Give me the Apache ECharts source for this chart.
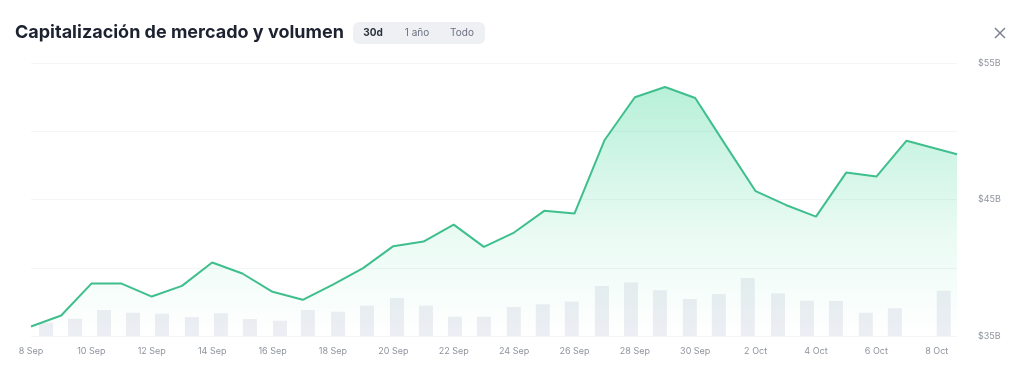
<!DOCTYPE html>
<html>
<head>
<meta charset="utf-8">
<script src="https://cdn.jsdelivr.net/npm/echarts@6/dist/echarts.min.js"></script>
<style>
html,body{margin:0;padding:0;background:#fff;}
#chart{width:1024px;height:379px;}
</style>
</head>
<body>
<div id="chart"></div>
<script>
// Days since 8 Sep for each market-cap point
const capDays = [0,1,2,3,4,5,6,7,8,9,10,11,12,13,14,15,16,17,18,19,20,21,22,23,24,25,26,27,28,29,30.67];
// Market cap ($B)
const capValues = [35.70,36.50,38.84,38.84,37.89,38.67,40.38,39.58,38.24,37.65,38.76,39.97,41.58,41.92,43.16,41.53,42.58,44.17,43.97,49.36,52.49,53.24,52.44,49.00,45.61,44.60,43.75,46.97,46.68,49.31,48.32];
// Volume bar times (days since 8 Sep) and volume ($B)
const volDays = [0.50,1.46,2.42,3.38,4.34,5.33,6.29,7.25,8.25,9.17,10.17,11.13,12.12,13.08,14.04,15.00,15.99,16.95,17.91,18.91,19.87,20.83,21.82,22.78,23.74,24.74,25.70,26.66,27.65,28.61,30.23];
const volValues = [1.95,2.53,3.81,3.41,3.27,2.78,3.33,2.49,2.24,3.81,3.56,4.44,5.57,4.44,2.83,2.83,4.25,4.64,5.05,7.33,7.87,6.70,5.42,6.15,8.50,6.26,5.17,5.13,3.41,4.06,6.64];
// X tick labels (every 2 days)
const tickLabels = ['8 Sep','10 Sep','12 Sep','14 Sep','16 Sep','18 Sep','20 Sep','22 Sep','24 Sep','26 Sep','28 Sep','30 Sep','2 Oct','4 Oct','6 Oct','8 Oct'];
// Y tick labels
const yLabels = {35:'$35B',45:'$45B',55:'$55B'};
const title = 'Capitalización de mercado y volumen';
const ranges = ['30d','1 año','Todo'];

const chart = echarts.init(document.getElementById('chart'), null, {renderer:'canvas'});
const FONT = 'Inter, "Noto Sans", sans-serif';

const capData = capDays.map((d,i)=>[d, capValues[i]]);
const volData = volDays.map((d,i)=>[d, volValues[i]]);

chart.setOption({
  animation:false,
  backgroundColor:'#ffffff',
  grid:{left:31, right:67, top:63, bottom:43},
  xAxis:{
    type:'value', min:0, max:capDays[capDays.length-1], interval:2,
    axisLine:{show:false}, axisTick:{show:false}, splitLine:{show:false},
    axisLabel:{
      color:'#8f949c', fontSize:9, fontFamily:FONT, margin:11,
      showMaxLabel:false,
      formatter:v=>{ const k=Math.round(v); return (Math.abs(v-k)<1e-6 && k%2===0 && tickLabels[k/2]) || ''; }
    }
  },
  yAxis:[{
    type:'value', position:'right', min:35, max:55, interval:5,
    axisLine:{show:false}, axisTick:{show:false},
    splitLine:{lineStyle:{color:'#f4f5f7', width:1}},
    axisLabel:{
      color:'#8f949c', fontSize:9, fontFamily:FONT, margin:21, align:'left',
      formatter:v=>yLabels[v]||''
    }
  },{
    type:'value', min:0, max:40, show:false, splitLine:{show:false}
  }],
  series:[{
    type:'bar', yAxisIndex:1, data:volData, barWidth:14,
    itemStyle:{color:'#eceef3'}, silent:true, z:1
  },{
    type:'line', data:capData, symbol:'none', z:2,
    lineStyle:{color:'#3fbf8d', width:2},
    areaStyle:{
      color:new echarts.graphic.LinearGradient(0,0,0,1,[
        {offset:0, color:'rgba(60,214,150,0.52)'},
        {offset:0.6, color:'rgba(60,214,150,0.15)'},
        {offset:1, color:'rgba(60,214,150,0.0)'}
      ])
    }
  }],
  graphic:[
    {type:'text', left:15, top:24, style:{text:title, font:'700 18px '+FONT, fill:'#1d2230'}},
    {type:'rect', shape:{x:353, y:22, width:132, height:22, r:6}, style:{fill:'#eef0f4'}},
    {type:'text', x:373, y:33, style:{text:ranges[0], font:'700 10px '+FONT, fill:'#2b303b', textAlign:'center', textVerticalAlign:'middle'}},
    {type:'text', x:417, y:33, style:{text:ranges[1], font:'400 10px '+FONT, fill:'#6b7080', textAlign:'center', textVerticalAlign:'middle'}},
    {type:'text', x:462, y:33, style:{text:ranges[2], font:'400 10px '+FONT, fill:'#6b7080', textAlign:'center', textVerticalAlign:'middle'}},
    {type:'line', shape:{x1:995, y1:28, x2:1005, y2:38}, style:{stroke:'#7d8290', lineWidth:1.5}},
    {type:'line', shape:{x1:1005, y1:28, x2:995, y2:38}, style:{stroke:'#7d8290', lineWidth:1.5}}
  ]
});
</script>
</body>
</html>
